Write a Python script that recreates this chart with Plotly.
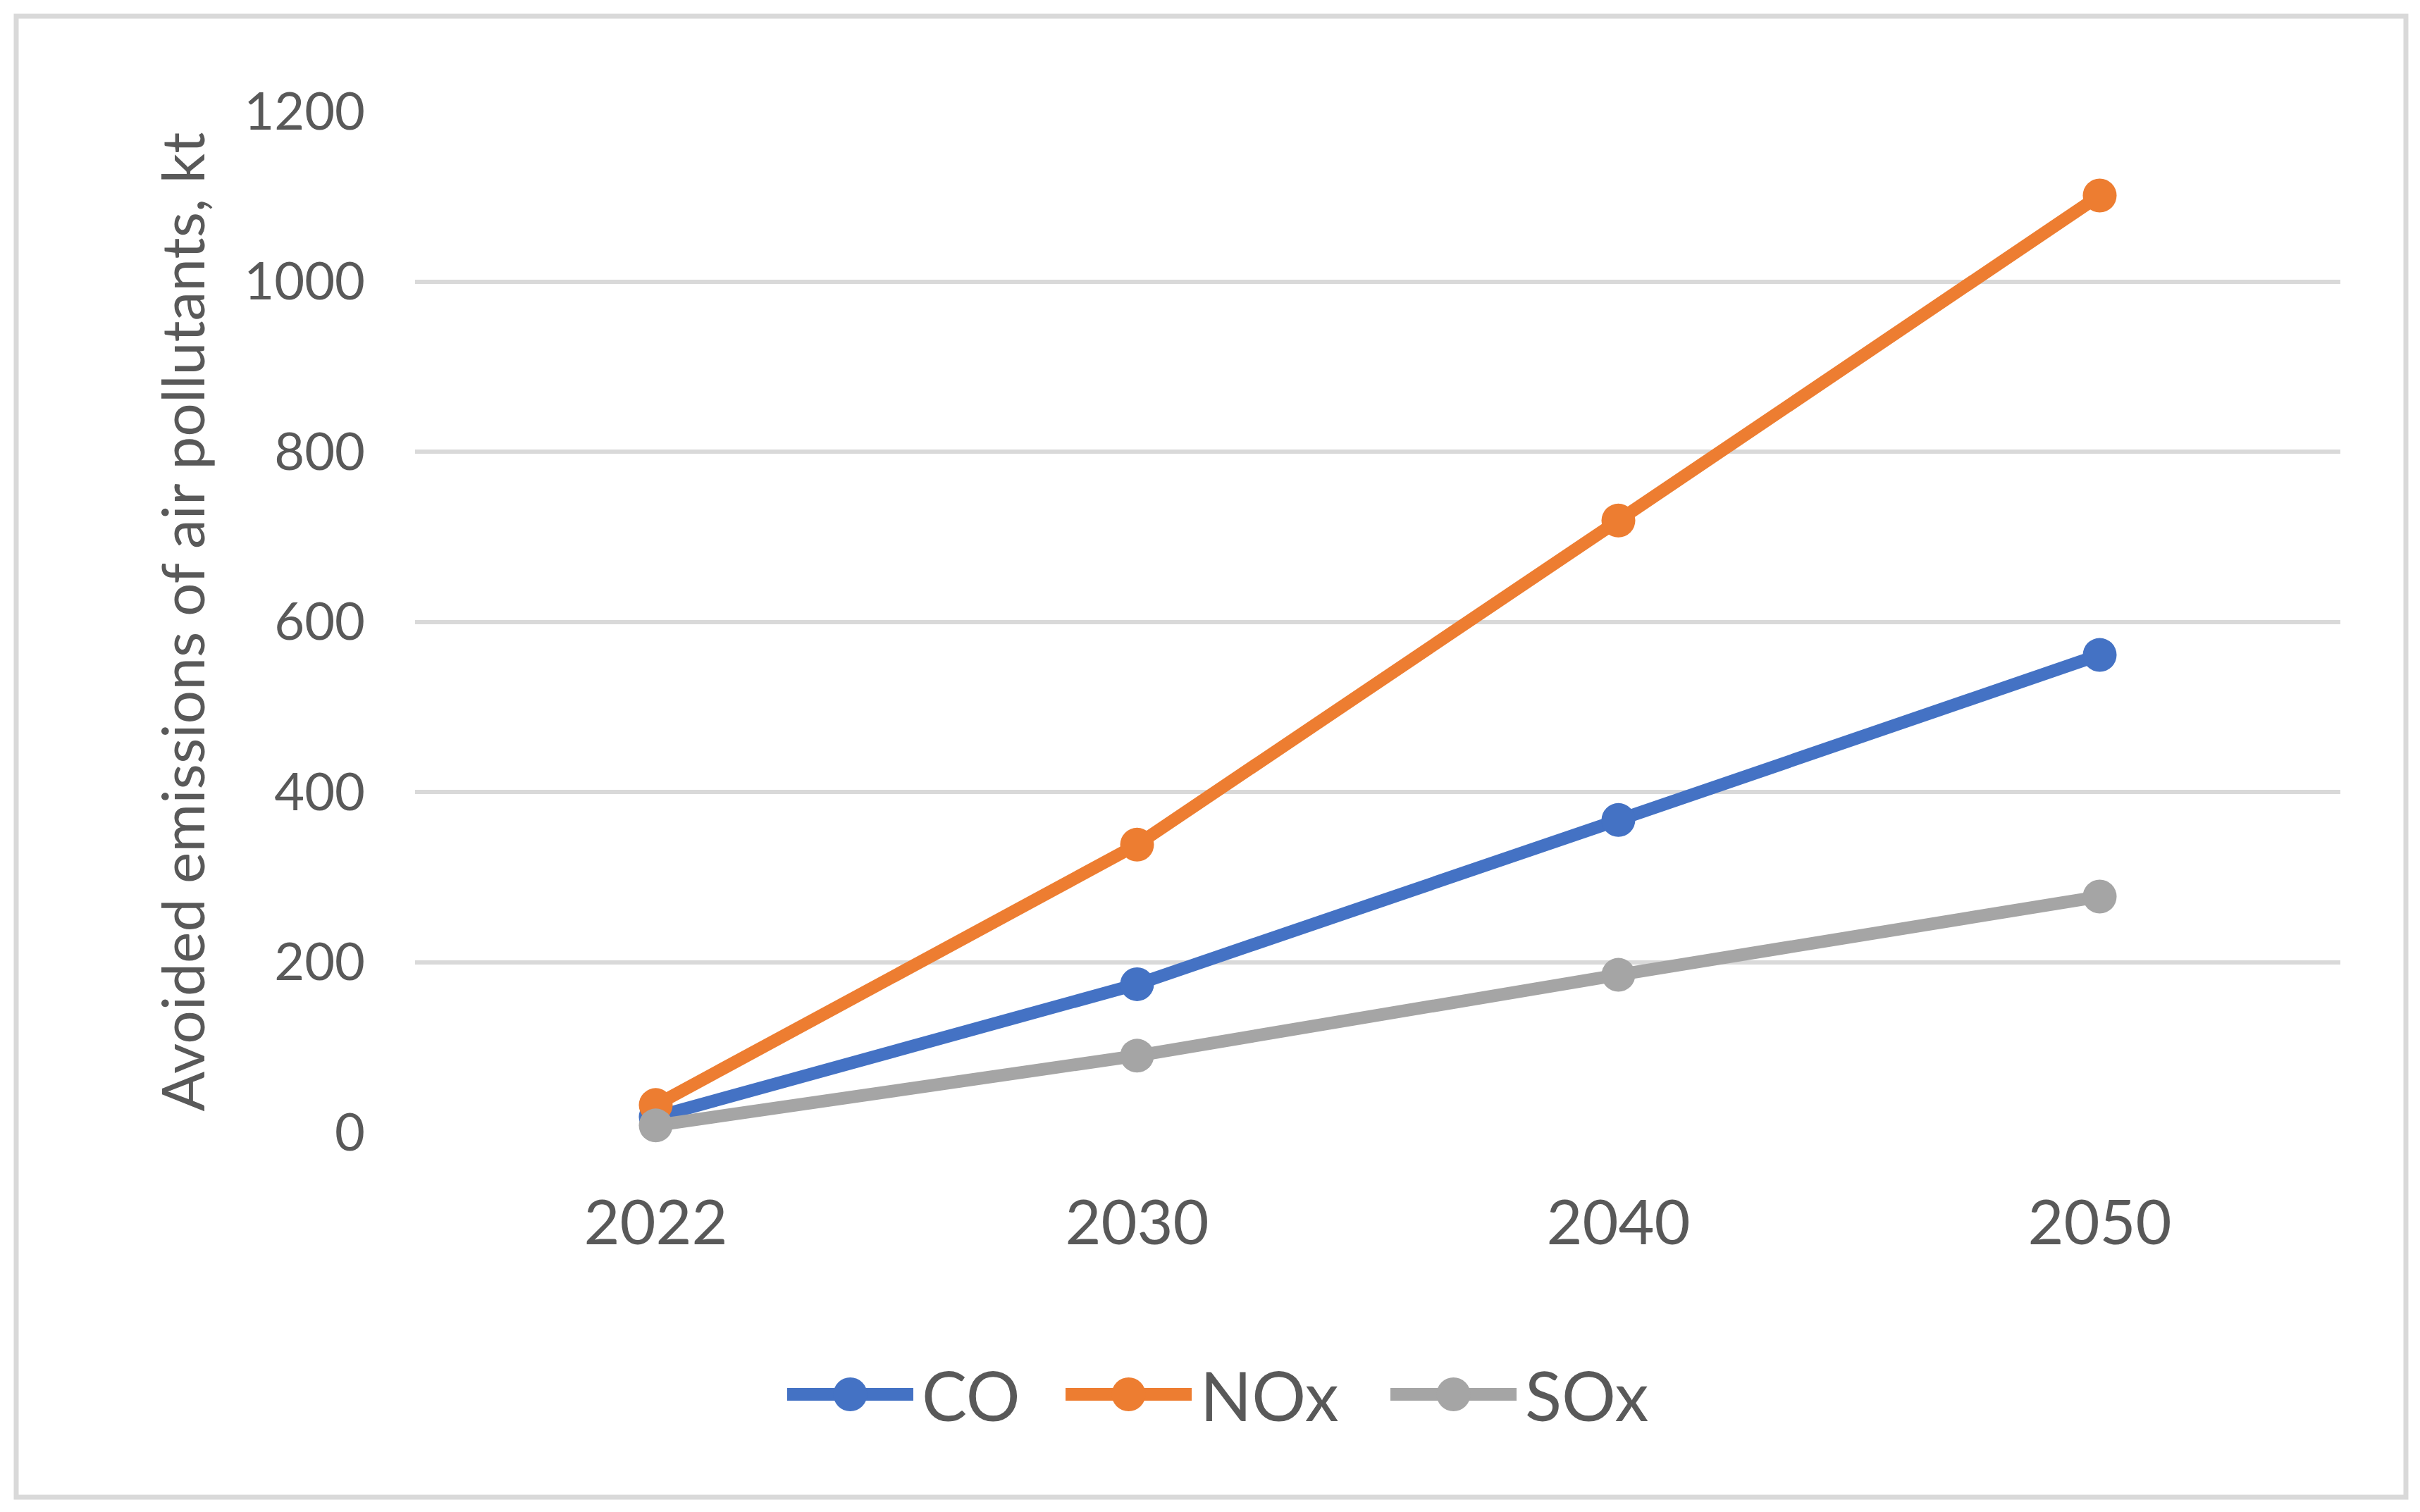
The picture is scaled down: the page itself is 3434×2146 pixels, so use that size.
import plotly.graph_objects as go

# ---- data ----
years = ["2022", "2030", "2040", "2050"]
series_names = ["CO", "NOx", "SOx"]
co_values = [18, 174, 367, 561]
nox_values = [32, 338, 719, 1101]
sox_values = [8, 90, 185, 277]
y_tick_values = [0, 200, 400, 600, 800, 1000, 1200]
y_title = "Avoided emissions of air pollutants, kt"

series_values = [co_values, nox_values, sox_values]
colors = ["#4472C4", "#ED7D31", "#A5A5A5"]
TEXT = "#595959"
GRID = "#D9D9D9"
FONT = "Lato"

# ---- layout geometry (figure pixels) ----
W, H = 3418, 2130
L, R, T, B = 581, 105, 150, 531
PW, PH = W - L - R, H - T - B


def px_x(p):
    return (p - L) / PW


def px_y(p):
    return (H - B - p) / PH


fig = go.Figure()
for name, vals, col in zip(series_names, series_values, colors):
    fig.add_trace(go.Scatter(
        x=years, y=vals, name=name, mode="lines+markers",
        line=dict(color=col, width=18),
        marker=dict(color=col, size=48),
        cliponaxis=False, showlegend=False,
    ))

shapes = [
    # outer chart border
    dict(type="rect", xref="paper", yref="paper",
         x0=px_x(15), x1=px_x(3406), y0=px_y(2117), y1=px_y(15),
         line=dict(color=GRID, width=7), fillcolor="rgba(0,0,0,0)", layer="below"),
]
annotations = []

# custom legend (line + marker + label), centred below the plot
legend_y = px_y(1971)
legend_starts = [1109, 1504, 1965]
line_len = 179
text_gap = 10
for name, col, x_start in zip(series_names, colors, legend_starts):
    shapes.append(dict(type="line", xref="paper", yref="paper",
                       x0=px_x(x_start), x1=px_x(x_start + line_len),
                       y0=legend_y, y1=legend_y,
                       line=dict(color=col, width=18)))
    shapes.append(dict(type="circle", xref="paper", yref="paper",
                       xsizemode="pixel", ysizemode="pixel",
                       xanchor=px_x(x_start + line_len / 2), yanchor=legend_y,
                       x0=-24, x1=24, y0=-24, y1=24,
                       fillcolor=col, line=dict(width=0)))
    annotations.append(dict(xref="paper", yref="paper",
                            x=px_x(x_start + line_len + text_gap), y=legend_y,
                            xanchor="left", yanchor="middle", showarrow=False,
                            text=name, font=dict(family=FONT, size=96, color=TEXT)))

fig.update_layout(
    width=W, height=H,
    margin=dict(l=L, r=R, t=T, b=B, pad=0),
    paper_bgcolor="white", plot_bgcolor="white",
    font=dict(family=FONT, color=TEXT),
    shapes=shapes, annotations=annotations,
    xaxis=dict(
        type="category", range=[-0.5, 3.5],
        showgrid=False, zeroline=False, showline=False, ticks="",
        tickfont=dict(family=FONT, size=88, color=TEXT),
        ticklabelstandoff=70,
    ),
    yaxis=dict(
        range=[0, 1200], tickvals=y_tick_values,
        showgrid=True, gridcolor=GRID, gridwidth=6,
        zeroline=False, showline=False, ticks="",
        tickfont=dict(family=FONT, size=74, color=TEXT),
        ticklabelstandoff=70,
        title=dict(text=y_title, font=dict(family=FONT, size=84, color=TEXT), standoff=27),
    ),
)

fig.write_html("out.html")
